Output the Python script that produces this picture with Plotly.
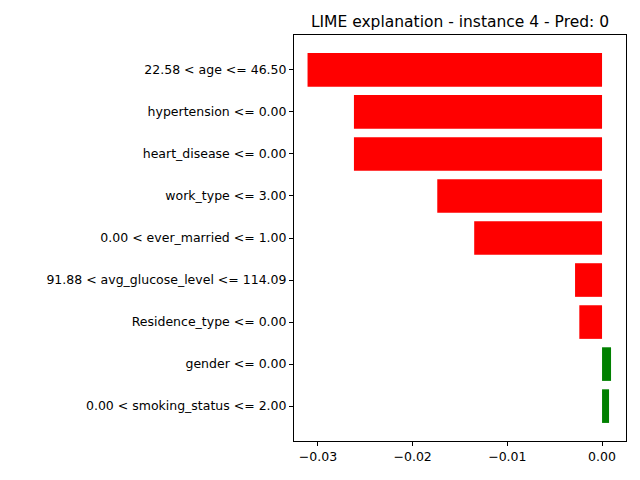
import plotly.graph_objects as go

# ── Data ──────────────────────────────────────────────────────────────────────
features = [
    "22.58 < age <= 46.50",
    "hypertension <= 0.00",
    "heart_disease <= 0.00",
    "work_type <= 3.00",
    "0.00 < ever_married <= 1.00",
    "91.88 < avg_glucose_level <= 114.09",
    "Residence_type <= 0.00",
    "gender <= 0.00",
    "0.00 < smoking_status <= 2.00",
]
weights = [-0.0311, -0.0262, -0.0262, -0.0174, -0.0135, -0.00285, -0.0024, 0.00095, 0.00074]
tick_vals = [-0.03, -0.02, -0.01, 0.0]
tick_text = ["−0.03", "−0.02", "−0.01", "0.00"]

colors = ["green" if w > 0 else "red" for w in weights]

fig = go.Figure(go.Bar(
    x=weights, y=list(range(len(features))), orientation="h",
    marker=dict(color=colors, line_width=0), width=0.8,
))

axis_common = dict(showline=True, linecolor="black", linewidth=1, mirror=True,
                   ticks="outside", ticklen=4, tickcolor="black", showgrid=False,
                   zeroline=False, tickfont=dict(size=12.5, color="black"))

# page body adds ~8px offset, so margins are compensated
fig.update_layout(
    width=640, height=480,
    plot_bgcolor="white", paper_bgcolor="white",
    font_family="DejaVu Sans",
    margin=dict(l=286, r=22, t=27, b=47),
    title=dict(text="LIME explanation - instance 4 - Pred: 0", x=(286 + 618) / 2 / 640,
               xanchor="center", y=1 - 14 / 480, yanchor="middle",
               font=dict(size=15.5, color="black")),
    xaxis=dict(range=[-0.03253, 0.00253], tickvals=tick_vals, ticktext=tick_text, **axis_common),
    yaxis=dict(range=[8.83, -0.83], tickvals=list(range(len(features))), ticktext=features,
               **axis_common),
    showlegend=False,
)

fig.write_html("out.html")
